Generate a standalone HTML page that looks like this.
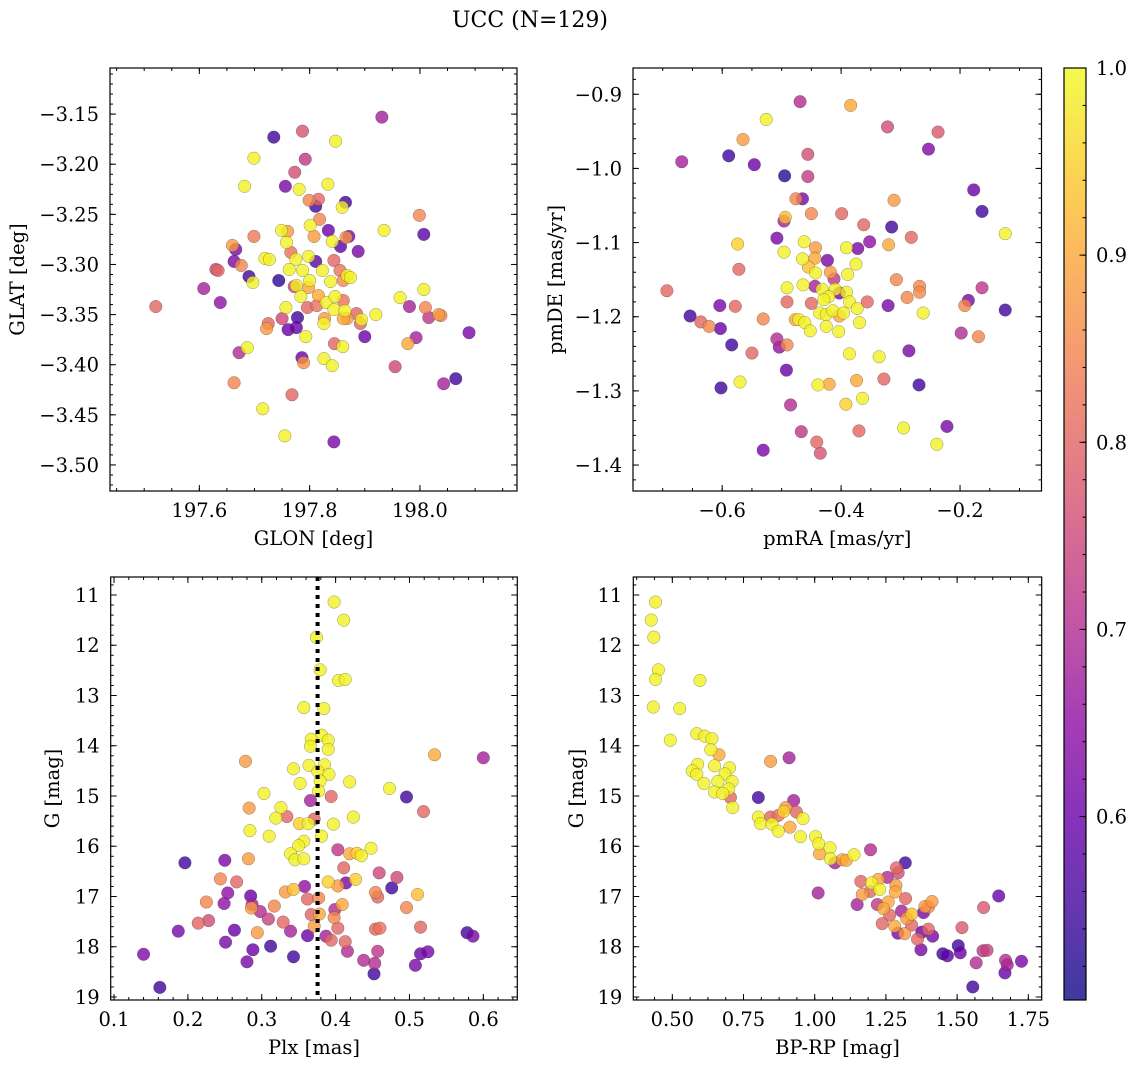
<!DOCTYPE html>
<html><head><meta charset="utf-8">
<style>
html,body{margin:0;padding:0;background:#fff;}
svg{display:block;font-family:"DejaVu Serif","Liberation Serif",serif;}
</style></head>
<body>
<svg id="fig" width="1136" height="1067" viewBox="0 0 1136 1067" xmlns="http://www.w3.org/2000/svg">
<text x="530" y="27" font-size="22" text-anchor="middle">UCC (N=129)</text>
</svg>
<script>
// ---------- Panel 1: GLON / GLAT ----------
const glon = [197.931,197.787,197.735,197.847,197.699,197.792,197.773,197.682,197.756,197.781,197.833,197.799,197.816,197.811,197.865,197.859,197.999,197.818,197.801,198.007,197.935,197.834,197.749,197.760,197.699,197.808,197.871,197.866,197.841,197.856,197.758,197.660,197.666,197.888,197.766,197.798,197.719,197.727,197.663,197.811,197.844,197.775,197.676,197.630,197.634,197.763,197.787,197.823,197.855,197.868,197.874,197.690,197.697,197.744,197.800,197.838,197.861,197.772,197.776,197.798,197.608,198.007,197.638,197.784,197.816,197.830,197.846,197.861,197.964,197.521,197.757,197.796,197.813,197.844,197.864,197.981,198.010,198.034,198.038,198.016,197.920,197.885,197.861,197.868,197.894,197.892,197.778,197.750,197.827,197.826,197.725,197.722,197.761,197.776,198.089,197.900,197.793,197.993,197.978,197.845,197.860,197.687,197.672,197.786,197.789,197.826,197.841,197.955,198.065,198.043,197.663,197.768,197.715,197.755,197.844];
const glat = [-3.153,-3.167,-3.173,-3.177,-3.194,-3.195,-3.208,-3.222,-3.222,-3.225,-3.220,-3.236,-3.235,-3.242,-3.238,-3.243,-3.251,-3.255,-3.261,-3.270,-3.266,-3.266,-3.266,-3.267,-3.272,-3.272,-3.272,-3.273,-3.277,-3.282,-3.278,-3.281,-3.285,-3.287,-3.288,-3.292,-3.294,-3.295,-3.297,-3.297,-3.296,-3.295,-3.301,-3.305,-3.306,-3.305,-3.306,-3.306,-3.306,-3.311,-3.313,-3.312,-3.318,-3.316,-3.316,-3.317,-3.316,-3.322,-3.321,-3.323,-3.324,-3.325,-3.338,-3.332,-3.331,-3.338,-3.332,-3.336,-3.333,-3.342,-3.343,-3.343,-3.341,-3.345,-3.346,-3.342,-3.343,-3.350,-3.351,-3.353,-3.350,-3.349,-3.354,-3.354,-3.355,-3.359,-3.353,-3.354,-3.354,-3.359,-3.359,-3.364,-3.365,-3.363,-3.368,-3.372,-3.372,-3.373,-3.379,-3.379,-3.382,-3.383,-3.388,-3.393,-3.398,-3.394,-3.401,-3.402,-3.414,-3.419,-3.418,-3.430,-3.444,-3.471,-3.477];
const prob1 = [.68,.77,.55,.99,.99,.72,.76,.99,.62,.99,.99,.85,.80,.55,.55,.99,.85,.85,.99,.58,.99,.60,.99,.88,.83,.88,.62,.87,.99,.58,.99,.88,.62,.62,.82,.99,.99,.99,.62,.58,.80,.99,.85,.75,.80,.99,.99,.99,.82,.99,.99,.55,.99,.53,.99,.99,.86,.75,.99,.90,.68,.99,.65,.99,.90,.99,.99,.82,.99,.80,.99,.80,.82,.99,.99,.68,.85,.88,.85,.72,.99,.80,.90,.88,.99,.80,.55,.75,.88,.99,.80,.88,.60,.60,.62,.60,.99,.68,.90,.80,.99,.99,.70,.60,.87,.99,.99,.75,.55,.68,.85,.80,.99,.99,.62];
const ticks1x = [197.6,197.8,198.0];
const ticks1xLabels = ["197.6","197.8","198.0"];
const ticks1y = [-3.15,-3.20,-3.25,-3.30,-3.35,-3.40,-3.45,-3.50];
const ticks1yLabels = ["\u22123.15","\u22123.20","\u22123.25","\u22123.30","\u22123.35","\u22123.40","\u22123.45","\u22123.50"];

// ---------- Panel 2: pmRA / pmDE ----------
const pmra = [-0.469,-0.384,-0.526,-0.322,-0.237,-0.565,-0.253,-0.668,-0.589,-0.546,-0.456,-0.495,-0.456,-0.177,-0.163,-0.476,-0.465,-0.311,-0.494,-0.496,-0.450,-0.399,-0.362,-0.315,-0.124,-0.282,-0.508,-0.574,-0.462,-0.443,-0.391,-0.372,-0.352,-0.320,-0.496,-0.465,-0.444,-0.423,-0.375,-0.455,-0.443,-0.418,-0.389,-0.572,-0.412,-0.307,-0.268,-0.268,-0.163,-0.693,-0.491,-0.464,-0.444,-0.432,-0.410,-0.391,-0.421,-0.403,-0.491,-0.450,-0.429,-0.386,-0.356,-0.321,-0.289,-0.186,-0.192,-0.124,-0.604,-0.578,-0.654,-0.636,-0.622,-0.603,-0.531,-0.436,-0.425,-0.414,-0.403,-0.396,-0.373,-0.477,-0.471,-0.461,-0.452,-0.425,-0.404,-0.369,-0.262,-0.198,-0.169,-0.584,-0.508,-0.504,-0.491,-0.550,-0.386,-0.336,-0.286,-0.492,-0.602,-0.570,-0.439,-0.420,-0.374,-0.328,-0.269,-0.485,-0.392,-0.364,-0.467,-0.370,-0.295,-0.222,-0.441,-0.435,-0.531,-0.239];
const pmde = [-0.910,-0.915,-0.934,-0.944,-0.951,-0.961,-0.974,-0.991,-0.983,-0.995,-0.981,-1.010,-1.011,-1.029,-1.058,-1.041,-1.041,-1.043,-1.066,-1.071,-1.061,-1.061,-1.076,-1.079,-1.088,-1.093,-1.094,-1.102,-1.099,-1.107,-1.107,-1.108,-1.099,-1.103,-1.113,-1.122,-1.121,-1.124,-1.129,-1.133,-1.141,-1.140,-1.143,-1.136,-1.149,-1.150,-1.159,-1.167,-1.161,-1.165,-1.161,-1.157,-1.159,-1.163,-1.163,-1.167,-1.173,-1.168,-1.180,-1.182,-1.177,-1.180,-1.180,-1.185,-1.174,-1.178,-1.185,-1.191,-1.185,-1.186,-1.199,-1.207,-1.213,-1.216,-1.203,-1.195,-1.197,-1.192,-1.199,-1.195,-1.189,-1.204,-1.204,-1.208,-1.219,-1.213,-1.220,-1.208,-1.195,-1.222,-1.227,-1.238,-1.230,-1.241,-1.238,-1.249,-1.250,-1.254,-1.246,-1.272,-1.296,-1.288,-1.292,-1.291,-1.286,-1.284,-1.292,-1.319,-1.318,-1.310,-1.355,-1.354,-1.350,-1.348,-1.369,-1.384,-1.380,-1.372];
const prob2 = [.70,.90,.99,.76,.78,.88,.63,.68,.55,.60,.76,.53,.73,.60,.55,.85,.62,.88,.93,.68,.85,.80,.80,.55,.99,.80,.62,.95,.99,.88,.99,.62,.65,.90,.99,.99,.90,.62,.99,.93,.99,.88,.99,.80,.72,.85,.85,.86,.72,.80,.99,.99,.68,.99,.99,.99,.99,.62,.80,.80,.99,.99,.80,.62,.85,.62,.85,.55,.62,.80,.55,.80,.85,.60,.85,.99,.99,.99,.90,.99,.99,.90,.99,.99,.99,.99,.99,.99,.99,.70,.85,.55,.70,.65,.85,.80,.99,.99,.62,.60,.55,.99,.99,.90,.90,.80,.55,.70,.95,.99,.72,.80,.99,.62,.80,.77,.62,.99];
const ticks2x = [-0.6,-0.4,-0.2];
const ticks2xLabels = ["\u22120.6","\u22120.4","\u22120.2"];
const ticks2y = [-0.9,-1.0,-1.1,-1.2,-1.3,-1.4];
const ticks2yLabels = ["\u22120.9","\u22121.0","\u22121.1","\u22121.2","\u22121.3","\u22121.4"];

// ---------- Panel 3: Plx / G ----------
const plx = [0.398,0.411,0.374,0.379,0.404,0.413,0.357,0.384,0.381,0.367,0.390,0.366,0.390,0.278,0.534,0.600,0.343,0.364,0.385,0.376,0.391,0.379,0.352,0.419,0.473,0.377,0.303,0.496,0.394,0.366,0.283,0.326,0.519,0.334,0.319,0.371,0.424,0.351,0.363,0.397,0.284,0.381,0.310,0.357,0.350,0.403,0.339,0.345,0.357,0.419,0.429,0.435,0.448,0.196,0.250,0.282,0.411,0.244,0.266,0.459,0.483,0.358,0.390,0.403,0.414,0.427,0.476,0.254,0.332,0.343,0.454,0.457,0.511,0.225,0.249,0.285,0.287,0.286,0.298,0.317,0.362,0.377,0.409,0.399,0.496,0.309,0.367,0.378,0.398,0.214,0.228,0.329,0.371,0.403,0.339,0.187,0.263,0.294,0.454,0.460,0.515,0.578,0.586,0.362,0.387,0.394,0.413,0.251,0.312,0.288,0.416,0.457,0.140,0.343,0.280,0.438,0.453,0.515,0.525,0.508,0.452,0.162];
const gmag3 = [11.14,11.50,11.84,12.49,12.70,12.68,13.24,13.26,13.79,13.87,13.89,14.01,14.07,14.31,14.18,14.24,14.46,14.39,14.38,14.51,14.57,14.70,14.75,14.72,14.85,14.90,14.95,15.02,15.01,15.09,15.24,15.23,15.31,15.41,15.44,15.46,15.42,15.55,15.55,15.56,15.69,15.80,15.80,15.90,15.99,16.07,16.15,16.27,16.25,16.15,16.14,16.19,16.04,16.33,16.28,16.25,16.43,16.65,16.71,16.53,16.62,16.80,16.71,16.79,16.73,16.66,16.83,16.93,16.91,16.86,16.92,17.01,16.96,17.11,17.14,16.99,17.16,17.23,17.30,17.19,17.05,17.03,17.16,17.26,17.22,17.45,17.36,17.35,17.42,17.53,17.48,17.51,17.59,17.63,17.69,17.69,17.67,17.72,17.65,17.63,17.61,17.72,17.79,17.78,17.79,17.87,17.90,17.91,17.99,18.06,18.09,18.09,18.15,18.20,18.30,18.27,18.33,18.14,18.10,18.37,18.54,18.81];
const prob3 = [.99,.99,.99,.99,.99,.99,.99,.99,.99,.99,.99,.99,.99,.88,.90,.68,.99,.99,.99,.99,.99,.99,.99,.99,.99,.99,.99,.55,.80,.68,.88,.99,.80,.80,.99,.80,.99,.95,.99,.99,.99,.99,.99,.99,.99,.72,.99,.99,.99,.90,.95,.99,.99,.55,.62,.88,.80,.85,.80,.75,.75,.65,.95,.88,.62,.95,.55,.65,.88,.93,.85,.80,.93,.85,.65,.60,.68,.88,.70,.85,.80,.85,.90,.70,.85,.74,.80,.90,.85,.80,.76,.80,.88,.80,.68,.62,.60,.88,.80,.82,.80,.55,.62,.60,.68,.80,.80,.62,.55,.60,.70,.72,.63,.55,.62,.70,.70,.60,.62,.62,.55,.55];
const plxRef = [0.3756];
const ticks3x = [0.1,0.2,0.3,0.4,0.5,0.6];
const ticks3xLabels = ["0.1","0.2","0.3","0.4","0.5","0.6"];
const ticksGy = [11,12,13,14,15,16,17,18,19];
const ticksGyLabels = ["11","12","13","14","15","16","17","18","19"];

// ---------- Panel 4: BP-RP / G ----------
const bprp = [0.441,0.426,0.435,0.451,0.441,0.597,0.433,0.526,0.493,0.586,0.614,0.639,0.635,0.664,0.845,0.910,0.589,0.648,0.570,0.586,0.701,0.685,0.660,0.710,0.611,0.698,0.648,0.677,0.704,0.802,0.712,0.926,0.802,0.810,0.845,0.850,0.872,0.898,0.891,0.936,0.959,0.872,0.913,0.950,1.003,1.014,1.017,1.054,1.055,1.071,1.096,1.111,1.138,1.196,1.318,1.287,1.293,1.162,1.200,1.223,1.255,1.228,1.167,1.195,1.285,1.283,1.012,1.149,1.220,1.258,1.241,1.319,1.263,1.237,1.305,1.323,1.340,1.382,1.387,1.412,1.399,1.281,1.340,1.292,1.316,1.361,1.376,1.399,1.414,1.373,1.450,1.466,1.504,1.511,1.646,1.593,1.517,1.591,1.605,1.567,1.670,1.676,1.726,1.668,1.555];
const gmag4 = [11.14,11.50,11.84,12.49,12.68,12.70,13.23,13.26,13.89,13.76,13.81,13.86,14.08,14.18,14.31,14.24,14.37,14.40,14.50,14.57,14.44,14.56,14.71,14.71,14.75,14.86,14.92,14.95,15.03,15.03,15.23,15.09,15.42,15.55,15.42,15.56,15.39,15.23,15.31,15.32,15.45,15.70,15.62,15.81,15.81,15.95,16.15,16.03,16.25,16.33,16.27,16.28,16.17,16.07,16.33,16.43,16.53,16.70,16.73,16.66,16.62,16.86,16.96,16.90,16.78,16.91,16.93,17.16,17.16,17.11,17.24,17.04,17.37,17.54,17.29,17.44,17.35,17.32,17.20,17.10,17.21,17.59,17.57,17.73,17.74,17.85,17.71,17.65,17.79,18.06,18.14,18.18,17.98,18.12,16.99,17.22,17.62,18.08,18.07,18.32,18.27,18.36,18.29,18.52,18.80];
const prob4 = [.99,.99,.99,.99,.99,.99,.99,.99,.99,.99,.99,.99,.99,.90,.88,.68,.99,.99,.99,.99,.99,.99,.99,.99,.99,.99,.99,.99,.80,.55,.99,.68,.99,.99,.80,.99,.82,.88,.95,.80,.99,.99,.90,.99,.99,.99,.90,.99,.99,.68,.90,.90,.99,.70,.55,.80,.76,.80,.99,.90,.70,.99,.88,.80,.88,.90,.68,.68,.72,.90,.90,.80,.80,.80,.68,.88,.93,.62,.88,.88,.85,.90,.80,.62,.88,.80,.60,.80,.62,.62,.55,.58,.55,.60,.60,.78,.78,.72,.74,.70,.70,.68,.62,.60,.55];
const ticks4x = [0.50,0.75,1.00,1.25,1.50,1.75];
const ticks4xLabels = ["0.50","0.75","1.00","1.25","1.50","1.75"];

// ---------- Colorbar ----------
const cbTicks = [0.6,0.7,0.8,0.9,1.0];
const cbTickLabels = ["0.6","0.7","0.8","0.9","1.0"];

const NS = "http://www.w3.org/2000/svg";
const svg = document.getElementById('fig');
function el(tag, attrs, parent){
  const e = document.createElementNS(NS, tag);
  for (const k in attrs) e.setAttribute(k, attrs[k]);
  (parent||svg).appendChild(e);
  return e;
}
const VMIN = 0.502, VMAX = 1.0;
const FS = 19.5;
const plasma = [[13,8,135],[65,4,157],[106,0,168],[143,13,164],[177,42,144],[204,71,120],[225,100,98],[242,132,75],[252,166,54],[252,206,37],[240,249,33]];
function cmap(p){
  let t = (p - VMIN)/(VMAX - VMIN); t = Math.max(0, Math.min(1, t));
  const f = t*10, i = Math.min(9, Math.floor(f)), r = f - i;
  const a = plasma[i], b = plasma[i+1];
  return 'rgb(' + [0,1,2].map(k => Math.round(a[k] + (b[k]-a[k])*r)).join(',') + ')';
}

function panel(cfg){
  const g = el('g', {});
  
  
  const L = cfg.box[0], T = cfg.box[1], R = cfg.box[2], B = cfg.box[3];
  const sx = v => L + (v - cfg.xr[0])/(cfg.xr[1]-cfg.xr[0])*(R-L);
  const sy = cfg.yinv ? (v => T + (v - cfg.yr[0])/(cfg.yr[1]-cfg.yr[0])*(B-T))
                      : (v => B - (v - cfg.yr[0])/(cfg.yr[1]-cfg.yr[0])*(B-T));
  const clip = el('clipPath', {id: 'clip-' + cfg.name}, g);
  el('rect', {x: L, y: T, width: R-L, height: B-T}, clip);
  const pts = el('g', {'clip-path': 'url(#clip-' + cfg.name + ')'}, g);
  
  
  const n = Math.min(cfg.xs.length, cfg.ys.length, cfg.ps.length);
  const idx = [];
  for (let i = 0; i < n; i++) idx.push(i);
  idx.sort((a, b) => cfg.ps[a] - cfg.ps[b]);
  for (const i of idx){
    const c = el('circle', {cx: sx(cfg.xs[i]).toFixed(2), cy: sy(cfg.ys[i]).toFixed(2), r: 6.3,
      fill: cmap(cfg.ps[i]), 'fill-opacity': 0.8, stroke: '#333', 'stroke-opacity': 0.5, 'stroke-width': 0.5}, pts);
    
    
  }
  if (cfg.vline){
    for (const v of cfg.vline){
      const ln = el('line', {x1: sx(v), x2: sx(v), y1: T, y2: B, stroke: '#000', 'stroke-width': 4, 'stroke-dasharray': '4 5'}, pts);
      
      
    }
  }
  const tk = el('g', {stroke: '#000', 'stroke-width': 1}, g);
  
  
  const eps = 1e-9;
  for (let v = Math.ceil(cfg.xr[0]/cfg.xminor - eps)*cfg.xminor; v <= cfg.xr[1] + eps; v += cfg.xminor){
    const x = sx(v);
    el('line', {x1: x, x2: x, y1: B, y2: B-3}, tk);
    el('line', {x1: x, x2: x, y1: T, y2: T+3}, tk);
  }
  const ylo = Math.min(cfg.yr[0], cfg.yr[1]), yhi = Math.max(cfg.yr[0], cfg.yr[1]);
  for (let v = Math.ceil(ylo/cfg.yminor - eps)*cfg.yminor; v <= yhi + eps; v += cfg.yminor){
    const y = sy(v);
    el('line', {x1: L, x2: L+3, y1: y, y2: y}, tk);
    el('line', {x1: R, x2: R-3, y1: y, y2: y}, tk);
  }
  cfg.xt.forEach((v, i) => {
    const x = sx(v);
    el('line', {x1: x, x2: x, y1: B, y2: B-6}, tk);
    el('line', {x1: x, x2: x, y1: T, y2: T+6}, tk);
    const t = el('text', {x: x, y: B + 26, 'font-size': FS, 'text-anchor': 'middle'}, g);
    t.textContent = cfg.xtl[i];
    
    
  });
  cfg.yt.forEach((v, i) => {
    const y = sy(v);
    el('line', {x1: L, x2: L+6, y1: y, y2: y}, tk);
    el('line', {x1: R, x2: R-6, y1: y, y2: y}, tk);
    const t = el('text', {x: L - 11, y: y + 7, 'font-size': FS, 'text-anchor': 'end'}, g);
    t.textContent = cfg.ytl[i];
    
    
  });
  const frame = el('rect', {x: L, y: T, width: R-L, height: B-T, fill: 'none', stroke: '#000', 'stroke-width': 1.2}, g);
  
  
  const xl = el('text', {x: (L+R)/2, y: B + 54, 'font-size': FS, 'text-anchor': 'middle'}, g);
  xl.textContent = cfg.xlabel;
  
  
  const ylx = cfg.ylabelX, yly = (T+B)/2;
  const yl = el('text', {x: ylx, y: yly, 'font-size': FS, 'text-anchor': 'middle', transform: 'rotate(-90 ' + ylx + ' ' + yly + ')'}, g);
  yl.textContent = cfg.ylabel;
  
  
}

panel({name: 'glon-glat-panel', box: [110, 68, 517, 491], xr: [197.438, 198.176], yr: [-3.526, -3.104],
  xs: glon, ys: glat, ps: prob1, xt: ticks1x, xtl: ticks1xLabels, yt: ticks1y, ytl: ticks1yLabels,
  xminor: 0.05, yminor: 0.01, xlabel: 'GLON [deg]', ylabel: 'GLAT [deg]', ylabelX: 24});
panel({name: 'pm-panel', box: [633, 68, 1041.5, 491], xr: [-0.750, -0.063], yr: [-1.435, -0.8646],
  xs: pmra, ys: pmde, ps: prob2, xt: ticks2x, xtl: ticks2xLabels, yt: ticks2y, ytl: ticks2yLabels,
  xminor: 0.05, yminor: 0.02, xlabel: 'pmRA [mas/yr]', ylabel: 'pmDE [mas/yr]', ylabelX: 562});
panel({name: 'plx-g-panel', box: [110.7, 577, 517.3, 1000], xr: [0.0955, 0.646], yr: [10.642, 19.06], yinv: true,
  xs: plx, ys: gmag3, ps: prob3, xt: ticks3x, xtl: ticks3xLabels, yt: ticksGy, ytl: ticksGyLabels,
  xminor: 0.02, yminor: 0.2, xlabel: 'Plx [mas]', ylabel: 'G [mag]', ylabelX: 59, vline: plxRef});
panel({name: 'cmd-panel', box: [633.3, 577, 1041.7, 1000], xr: [0.363, 1.797], yr: [10.642, 19.06], yinv: true,
  xs: bprp, ys: gmag4, ps: prob4, xt: ticks4x, xtl: ticks4xLabels, yt: ticksGy, ytl: ticksGyLabels,
  xminor: 0.0625, yminor: 0.2, xlabel: 'BP-RP [mag]', ylabel: 'G [mag]', ylabelX: 583});

(function(){
  const L = 1064, R = 1086, T = 68, B = 1000;
  const g = el('g', {});
  
  
  const defs = el('defs', {}, g);
  const grad = el('linearGradient', {id: 'cbgrad', x1: 0, y1: 1, x2: 0, y2: 0}, defs);
  for (let k = 0; k <= 20; k++){
    const p = VMIN + (VMAX - VMIN)*k/20;
    el('stop', {offset: (k/20), 'stop-color': cmap(p), 'stop-opacity': 0.8}, grad);
  }
  el('rect', {x: L, y: T, width: R-L, height: B-T, fill: 'url(#cbgrad)'}, g);
  const sy = v => B - (v - VMIN)/(VMAX - VMIN)*(B-T);
  for (let v = 0.52; v <= 1.0001; v += 0.02){
    const y = sy(v);
    el('line', {x1: R, x2: R-3.5, y1: y, y2: y, stroke: '#000', 'stroke-width': 1}, g);
  }
  cbTicks.forEach((v, i) => {
    const y = sy(v);
    el('line', {x1: R, x2: R-6.5, y1: y, y2: y, stroke: '#000', 'stroke-width': 1}, g);
    const t = el('text', {x: R + 10, y: y + 7, 'font-size': FS}, g);
    t.textContent = cbTickLabels[i];
    
    
  });
  el('rect', {x: L, y: T, width: R-L, height: B-T, fill: 'none', stroke: '#000', 'stroke-width': 1.2}, g);
})();
</script>
</body></html>
